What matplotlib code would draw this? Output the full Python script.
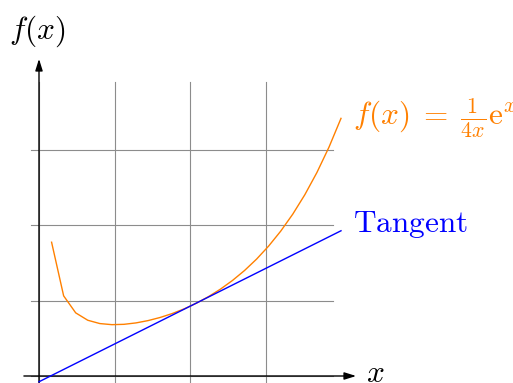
import numpy as np
import matplotlib
matplotlib.use("Agg")
import matplotlib.pyplot as plt

plt.rcParams["mathtext.fontset"] = "cm"
plt.rcParams["font.family"] = ["DejaVu Serif"]

# Function f(x) = e^x / (4x), sampled coarsely on [1/6, 4]
x_domain = (1 / 6, 4.0)
n_samples = 25
curve_x = np.linspace(x_domain[0], x_domain[1], n_samples)
curve_y = np.exp(curve_x) / (4 * curve_x)

# Tangent through (2, f(2))
touch_x = 2.0
touch_y = np.exp(touch_x) / (4 * touch_x)
tangent_slope = 0.5
tangent_x = np.array([0.0, 4.0])
tangent_y = touch_y + tangent_slope * (tangent_x - touch_x)

grid_ticks = [0, 1, 2, 3]
grid_span = (-0.1, 3.9)

orange = (1.0, 0.5, 0.0)
blue = (0.0, 0.0, 1.0)
fs = 22.5

fig = plt.figure(figsize=(5.13, 3.83), dpi=100)
ax = fig.add_axes([0, 0, 1, 1])
ax.set_xlim(-39 / 75.5, (513 - 39) / 75.5)
ax.set_ylim(-7 / 75.5, 376 / 75.5)
ax.axis("off")

# help-line grid
for t in grid_ticks:
    ax.plot([t, t], grid_span, color="#8c8c8c", lw=0.8, zorder=1)
    ax.plot(grid_span, [t, t], color="#8c8c8c", lw=0.8, zorder=1)

# axes with arrow heads
arrow_kw = dict(arrowstyle="-|>,head_length=0.7,head_width=0.22", color="black",
                lw=1.0, shrinkA=0, shrinkB=0)
ax.annotate("", xy=(4.2, 0), xytext=(-0.2, 0), arrowprops=arrow_kw, zorder=3)
ax.annotate("", xy=(0, 4.2), xytext=(0, -0.1), arrowprops=arrow_kw, zorder=3)

ax.text(4.46, -0.075, r"$x$", fontsize=fs, ha="center", va="baseline")
ax.text(-0.02, 4.47, r"$f(x)$", fontsize=fs, ha="center", va="baseline")

# curve and tangent
ax.plot(curve_x, curve_y, color=orange, lw=1.0, zorder=4)
ax.plot(tangent_x, tangent_y, color=blue, lw=1.0, zorder=4)

ax.text(4.16, 3.325, r"$f(x)\;=\;\frac{1}{4x}\mathrm{e}^x$", fontsize=fs,
        color=orange, ha="left", va="baseline")
ax.text(4.16, 1.907, r"$\mathrm{Tangent}$", fontsize=fs,
        color=blue, ha="left", va="baseline")

fig.savefig("out.png", dpi=100)
